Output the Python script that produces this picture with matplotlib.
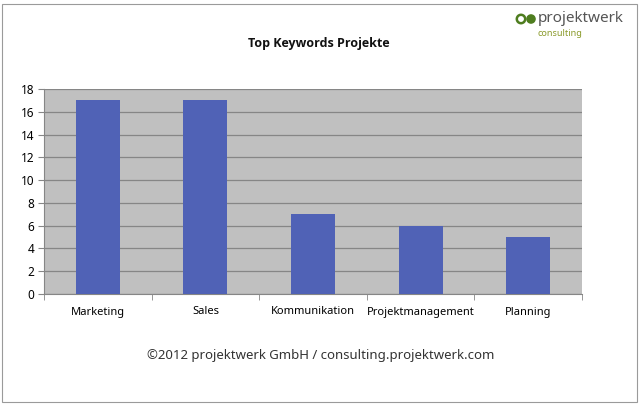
import matplotlib
matplotlib.use("Agg")
import matplotlib.pyplot as plt
from matplotlib.patches import Circle, Rectangle

plt.rcParams['font.family'] = ['Noto Sans', 'DejaVu Sans']

keywords = ["Marketing", "Sales", "Kommunikation", "Projektmanagement", "Planning"]
counts = [17, 17, 7, 6, 5]
yticks = [0, 2, 4, 6, 8, 10, 12, 14, 16, 18]

fig = plt.figure(figsize=(6.4, 4.04), dpi=100)
ax = fig.add_axes([44/640, 1-294/404, 538/640, 205/404])

x = list(range(len(keywords)))
ax.bar(x, counts, width=0.41, color='#5062b6', zorder=3)

ax.set_facecolor('#c0c0c0')
ax.set_xlim(-0.5, len(keywords) - 0.5)
ax.set_ylim(0, 18)
ax.set_yticks(yticks)
ax.yaxis.grid(True, color='#868686', linewidth=0.9, zorder=1)
ax.set_axisbelow(True)

ax.set_xticks(x)
ax.set_xticklabels(keywords, fontsize=8)
ax.set_xticks([i - 0.5 for i in range(len(keywords) + 1)], minor=True)
ax.tick_params(axis='x', which='major', length=0, pad=9)
ax.tick_params(axis='x', which='minor', length=4, color='#868686', direction='out')
ax.tick_params(axis='y', length=4, color='#868686', labelsize=8.5, pad=3)

for s in ['top', 'right']:
    ax.spines[s].set_visible(False)
ax.spines['left'].set_color('#868686')
ax.spines['bottom'].set_color('#868686')

fig.text(319/640, 1-43/404, "Top Keywords Projekte", ha='center', va='center',
         fontsize=9, fontweight='bold', family=['Open Sans', 'DejaVu Sans'],
         color='#111111')
fig.text(321/640, 1-355/404, "\u00a92012 projektwerk GmbH / consulting.projektwerk.com",
         ha='center', va='center', fontsize=9.5, color='#333333')

# logo
fig.patches.append(Circle((521, 404-19), 4.2, transform=None,
                          fill=False, edgecolor='#4e7d1f', linewidth=1.8))
fig.patches.append(Circle((531, 404-19), 4.8, transform=None,
                          facecolor='#4e7d1f', edgecolor='none'))
fig.text(538/640, 1-18/404, "projektwerk", ha='left', va='center',
         fontsize=11, color='#555555')
fig.text(538/640, 1-33/404, "consulting", ha='left', va='center',
         fontsize=6.5, color='#8a9a2a')

# outer frame
fig.patches.append(Rectangle((2/640, 2/404), 635/640, 398/404, transform=fig.transFigure,
                             fill=False, edgecolor='#9a9a9a', linewidth=0.8))

fig.savefig("out.png", dpi=100)
